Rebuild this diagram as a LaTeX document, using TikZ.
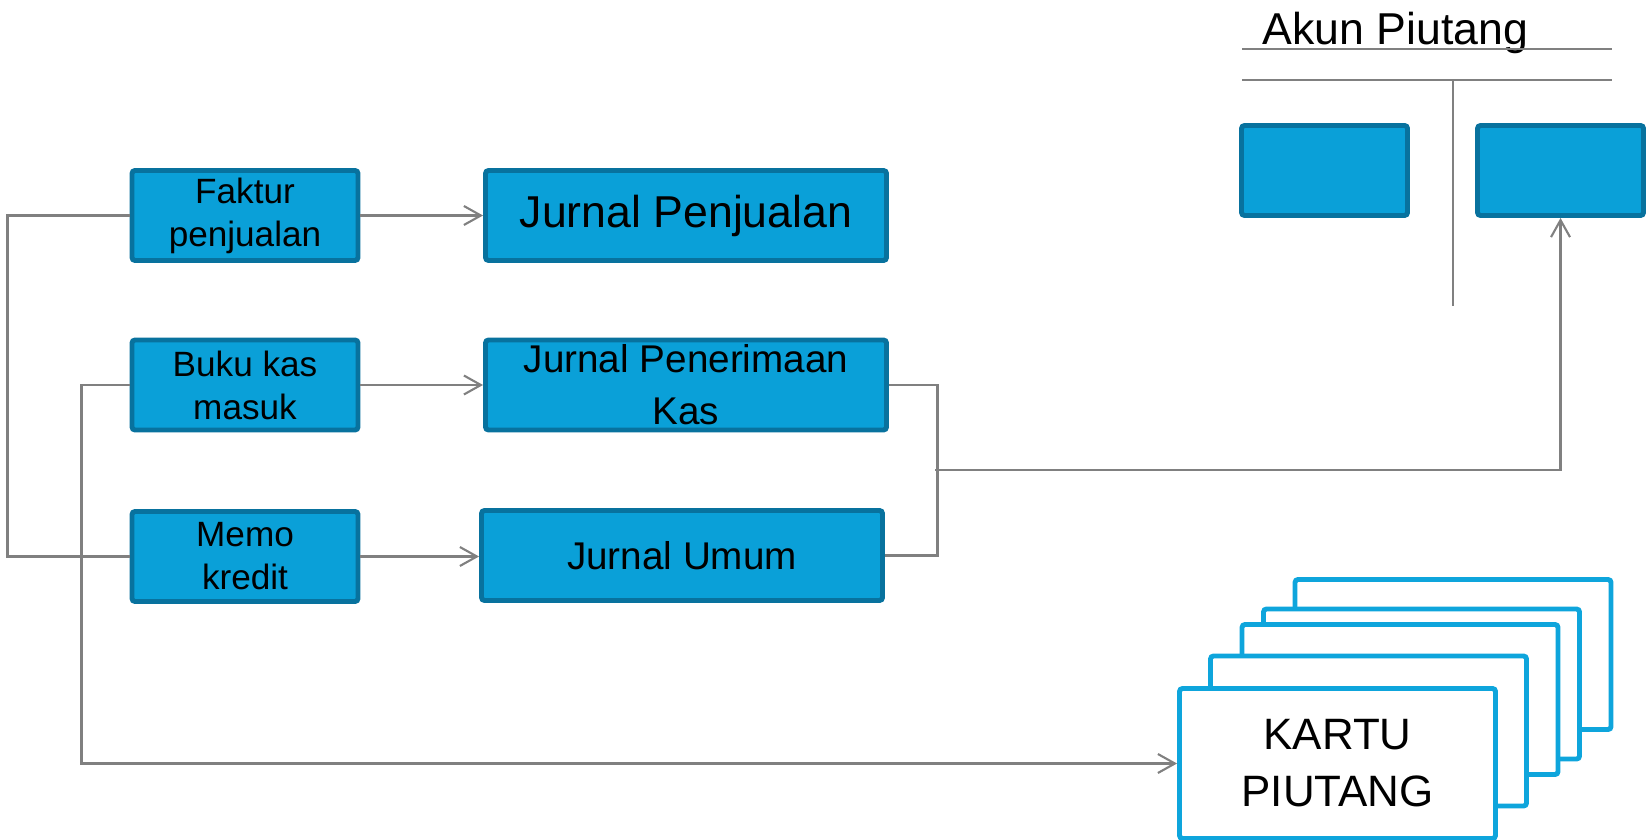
\documentclass[tikz,border=0pt]{standalone}
\usepackage{fontspec}
\setmainfont{Liberation Sans}
\usetikzlibrary{arrows.meta,positioning}

\definecolor{boxfill}{RGB}{10,160,216}
\definecolor{boxedge}{RGB}{8,114,158}
\definecolor{cardedge}{RGB}{14,165,220}
\definecolor{linegray}{RGB}{128,128,128}

\begin{document}
\begin{tikzpicture}[
    x=0.1mm,y=-0.1mm,
    box/.style={draw=boxedge,fill=boxfill,line width=1.4pt,rounded corners=0.3mm,
                minimum width=22.6mm,minimum height=9mm,inner sep=0pt,align=center,
                font=\fontsize{10}{12.2}\selectfont},
    jbox/.style={box,minimum width=40.1mm,font=\fontsize{11}{14.7}\selectfont},
    tbox/.style={box,minimum width=16.6mm},
    card/.style={draw=cardedge,fill=white,line width=1.4pt,rounded corners=0.3mm,
                 minimum width=31.6mm,minimum height=15mm,inner sep=0pt,align=center,
                 font=\fontsize{12.5}{16.2}\selectfont},
    link/.style={draw=linegray,line width=0.6pt},
    arr/.style={link,-{Straight Barb[length=1.7mm,width=1.9mm]}}
  ]
  \useasboundingbox (0,0) rectangle (1648,840);

  % source documents
  \node[box] (faktur) at (245,215.5) {Faktur\\penjualan};
  \node[box] (buku)   at (245,385)   {Buku kas\\masuk};
  \node[box] (memo)   at (245,556.5) {Memo\\kredit};

  % journals
  \node[jbox,font=\fontsize{12.7}{15}\selectfont] (jpenj) at (686,215.5) {Jurnal Penjualan};
  \node[jbox] (jpk)   at (686,385)   {Jurnal Penerimaan\\Kas};
  \node[jbox] (jumum) at (682,555.5) {Jurnal Umum};

  % T-account
  \node[anchor=base west,inner sep=0pt,font=\fontsize{12.7}{15}\selectfont]
       (akun) at (1262,45) {Akun Piutang};
  \draw[link] (1242,49) -- (1612,49);
  \draw[link] (1242,80) -- (1612,80);
  \draw[link] (1453,80) -- (1453,306);
  \node[tbox] (debit)  at (1324.5,170.5) {};
  \node[tbox] (credit) at (1560.5,170.5) {};

  % stack of ledger cards, back to front
  \node[card] (c5) at (1453,654.5) {};
  \node[card] (c4) at (1421.5,684) {};
  \node[card] (c3) at (1400,699.5) {};
  \node[card] (c2) at (1368.5,731) {};
  \node[card] (kartu) at (1337.5,763.5) {KARTU\\PIUTANG};

  \draw[arr] (faktur.east) -- (jpenj.west);
  \draw[arr] (buku.east)   -- (jpk.west);
  \draw[arr] (memo.east)   -- (memo.east -| jumum.west);

  \draw[link] (faktur.west) -- ++(-122,0) |- (memo.west);
  \draw[arr]  (buku.west) -- ++(-48,0) |- (kartu.west);

  % journals posted to the account
  \draw[link] (jpk.east) -- ++(48.5,0) |- (jumum.east);
  \coordinate (merge) at (935,470);
  \draw[arr] (merge) -| (credit.south);
\end{tikzpicture}
\end{document}
